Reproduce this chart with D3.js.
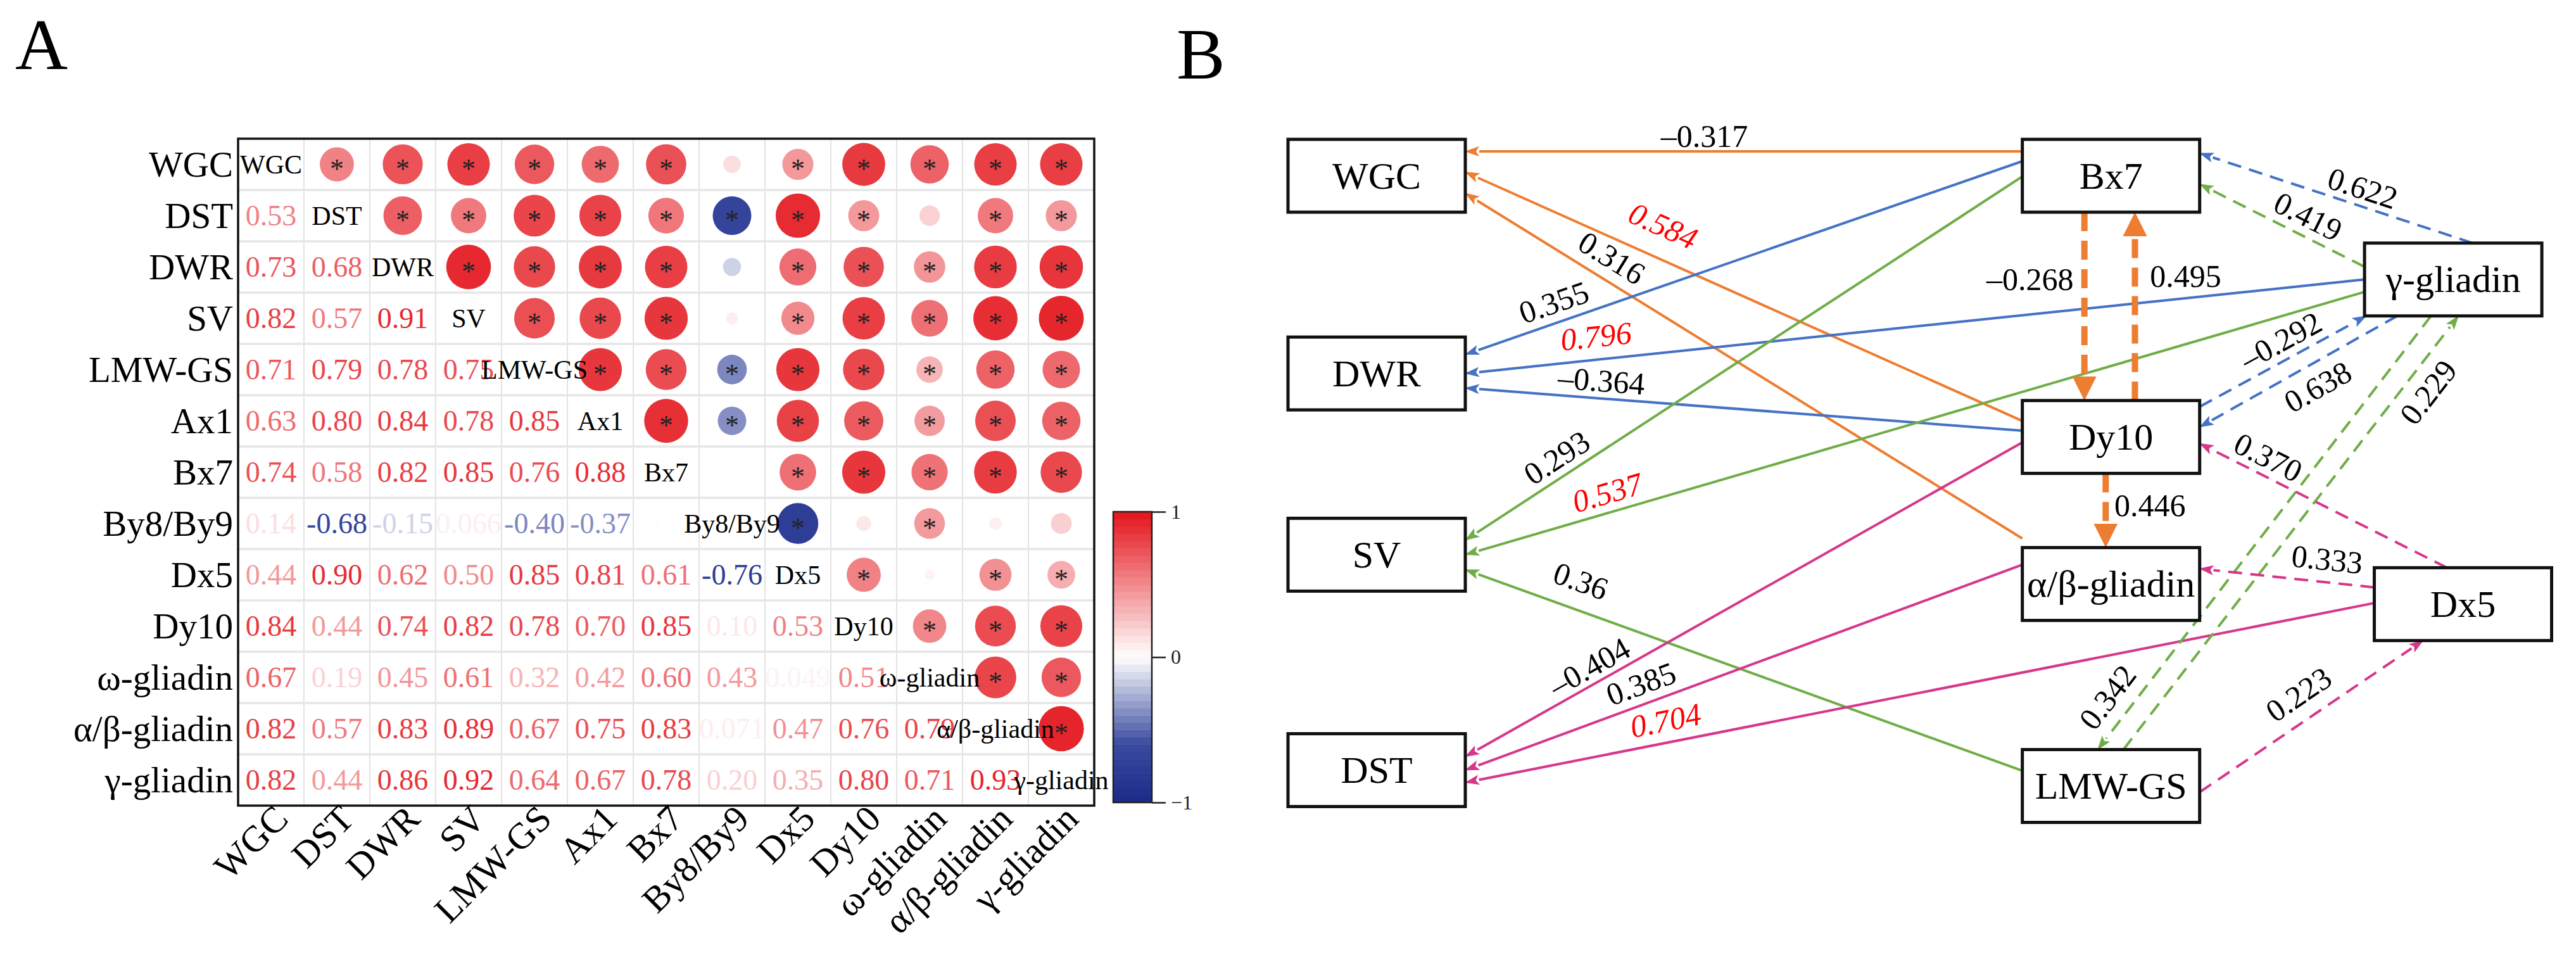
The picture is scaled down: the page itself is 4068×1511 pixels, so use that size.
<!DOCTYPE html>
<html>
<head>
<meta charset="utf-8">
<script src="https://cdn.jsdelivr.net/npm/d3@7"></script>
<style>body{margin:0;background:#fff}</style>
</head>
<body>
<script>
// ---------- Panel A data: correlation matrix ----------
const traits = ["WGC","DST","DWR","SV","LMW-GS","Ax1","Bx7","By8/By9","Dx5","Dy10","ω-gliadin","α/β-gliadin","γ-gliadin"];
// lower triangle, row i, columns 0..i-1
const lowerR = [
  [],
  [0.53],
  [0.73,0.68],
  [0.82,0.57,0.91],
  [0.71,0.79,0.78,0.75],
  [0.63,0.80,0.84,0.78,0.85],
  [0.74,0.58,0.82,0.85,0.76,0.88],
  [0.14,-0.68,-0.15,0.066,-0.40,-0.37,0.004],
  [0.44,0.90,0.62,0.50,0.85,0.81,0.61,-0.76],
  [0.84,0.44,0.74,0.82,0.78,0.70,0.85,0.10,0.53],
  [0.67,0.19,0.45,0.61,0.32,0.42,0.60,0.43,0.049,0.51],
  [0.82,0.57,0.83,0.89,0.67,0.75,0.83,0.071,0.47,0.76,0.79],
  [0.82,0.44,0.86,0.92,0.64,0.67,0.78,0.20,0.35,0.80,0.71,0.93]
];
const sigCut = 0.3;           // |r| above this gets a star
const legendTicks = [-1, 0, 1];

// ---------- Panel B data: path model ----------
const pathNodes = ["WGC","DWR","SV","DST","Bx7","Dy10","α/β-gliadin","LMW-GS","γ-gliadin","Dx5"];
const pathFrom  = ["Bx7","Dy10","α/β-gliadin","Bx7","γ-gliadin","Dy10","Bx7","γ-gliadin","LMW-GS","Dy10","α/β-gliadin","Dx5",
                   "Bx7","Dy10","Dy10","γ-gliadin","Dy10","γ-gliadin","γ-gliadin","γ-gliadin","LMW-GS","Dx5","Dx5","LMW-GS"];
const pathTo    = ["WGC","WGC","WGC","DWR","DWR","DWR","SV","SV","SV","DST","DST","DST",
                   "Dy10","Bx7","α/β-gliadin","Bx7","γ-gliadin","Dy10","Bx7","LMW-GS","γ-gliadin","Dy10","α/β-gliadin","Dx5"];
const pathCoef  = ["-0.317","0.584","0.316","0.355","0.796","-0.364","0.293","0.537","0.36","-0.404","0.385","0.704",
                   "-0.268","0.495","0.446","0.622","-0.292","0.638","0.419","0.342","0.229","0.370","0.333","0.223"];
const pathGroup = ["WGC","WGC","WGC","DWR","DWR","DWR","SV","SV","SV","DST","DST","DST",
                   "WGC","WGC","WGC","DWR","DWR","DWR","SV","SV","SV","DST","DST","DST"];
const pathDirect = pathFrom.map((d, i) => i < 12);

// ---------- layout (not data) ----------
const W = 4068, H = 1511;
const serif = "'Liberation Serif','Times New Roman',serif";
// node placement in unit coordinates
const nodeLayout = {
  "WGC":[0,0], "DWR":[0,0.324], "SV":[0,0.621], "DST":[0,0.974],
  "Bx7":[0.676,0], "Dy10":[0.676,0.428], "α/β-gliadin":[0.676,0.669], "LMW-GS":[0.676,1],
  "γ-gliadin":[0.991,0.170], "Dx5":[1,0.702]
};
// attachment ports per edge: [srcSide, srcFrac, tgtSide, tgtFrac]
const ports = [
  ["l",-0.67,"r",-0.67],["l",-0.44,"r",-0.10],["l",-1.25,"r",0.48],
  ["l",-0.40,"r",-0.52],["l",0,"r",0],["l",-0.17,"r",0.40],
  ["l",0.02,"r",-0.40],["l",0.34,"r",0],["l",-0.42,"r",0.41],
  ["l",0.15,"r",-0.37],["l",-0.53,"r",0],["l",-0.03,"r",0.34],
  ["b",-0.30,"t",-0.30],["t",0.27,"b",0.27],["b",-0.06,"t",-0.06],
  ["t",0.22,"r",-0.62],["r",-0.83,"b",-0.98],["b",-0.63,"r",-0.27],
  ["l",-0.35,"r",0.23],["b",-0.25,"t",-0.15],["t",0.14,"b",0.06],
  ["t",-0.18,"r",0.18],["l",-0.46,"r",-0.42],["r",0.17,"b",-0.45]
];
// label placement per edge: [t along edge, normal offset, rotation override]
const labelPos = [
  [0.571,24],[0.668,50],[0.758,35],[0.829,32],[0.852,37],[0.758,28],
  [0.817,30],[0.836,31],[0.81,45],[0.762,27],[0.672,32],[0.775,35],
  [0.357,-86,0],[0.66,80,0],[0.43,70,0],
  [0.423,28],[0.542,30],[0.459,-36],[0.396,31],[0.913,38],[0.856,-36],
  [0.756,29],[0.284,36],[0.507,40]
];
const groupColor = {WGC:"#ED7D31", DWR:"#4472C4", SV:"#70AD47", DST:"#D6378B"};

const svg = d3.select("body").append("svg")
  .attr("width", W).attr("height", H)
  .style("font-family", serif);

// panel letters
svg.append("text").attr("x", 24).attr("y", 109).attr("font-size", 115).text("A");
svg.append("text").attr("x", 1858).attr("y", 124).attr("font-size", 115).text("B");

// ================= Panel A =================
const n = traits.length;
const x = d3.scaleBand().domain(traits).range([376, 1728]);
const y = d3.scaleBand().domain(traits).range([219, 1272]);
const bw = x.bandwidth(), bh = y.bandwidth();
const corr = (i, j) => i === j ? 1 : (i > j ? lowerR[i][j] : lowerR[j][i]);
const color = d3.scaleLinear()
  .domain([-1, -0.6, 0, 1])
  .range(["#1b2a87", "#3a4a9f", "#ffffff", "#e3141b"]);
const rad = d3.scaleSqrt().domain([0, 1]).range([0, 37]);
const fmt = v => Math.abs(v) < 0.095 ? v.toFixed(3) : v.toFixed(2);

const cells = d3.cross(d3.range(n), d3.range(n)).map(([i, j]) => ({i, j, v: corr(i, j)}));
const gA = svg.append("g");

// grid
gA.selectAll("line.v").data(d3.range(1, n)).enter().append("line")
  .attr("x1", k => x.range()[0] + k * bw).attr("x2", k => x.range()[0] + k * bw)
  .attr("y1", y.range()[0]).attr("y2", y.range()[1])
  .attr("stroke", "#dadada").attr("stroke-width", 1.5);
gA.selectAll("line.h").data(d3.range(1, n)).enter().append("line")
  .attr("y1", k => y.range()[0] + k * bh).attr("y2", k => y.range()[0] + k * bh)
  .attr("x1", x.range()[0]).attr("x2", x.range()[1])
  .attr("stroke", "#e6e6e6").attr("stroke-width", 3.5);

// circles (upper triangle)
const upper = cells.filter(d => d.j > d.i);
gA.selectAll("circle").data(upper).enter().append("circle")
  .attr("cx", d => x(traits[d.j]) + bw / 2)
  .attr("cy", d => y(traits[d.i]) + bh / 2)
  .attr("r", d => rad(Math.abs(d.v)))
  .attr("fill", d => color(d.v));

// numbers (lower triangle)
gA.selectAll("text.num").data(cells.filter(d => d.j < d.i)).enter().append("text")
  .attr("x", d => x(traits[d.j]) + bw / 2)
  .attr("y", d => y(traits[d.i]) + bh / 2)
  .attr("text-anchor", "middle").attr("dominant-baseline", "central")
  .attr("font-size", 46)
  .attr("fill", d => color(d.v))
  .text(d => fmt(d.v));

// diagonal labels
gA.selectAll("text.diag").data(traits).enter().append("text")
  .attr("x", d => x(d) + bw / 2)
  .attr("y", d => y(d) + bh / 2)
  .attr("text-anchor", "middle").attr("dominant-baseline", "central")
  .attr("font-size", 42).attr("fill", "#000")
  .text(d => d);

// significance stars
gA.selectAll("text.star").data(upper.filter(d => Math.abs(d.v) >= sigCut)).enter().append("text")
  .attr("x", d => x(traits[d.j]) + bw / 2)
  .attr("y", d => y(traits[d.i]) + bh / 2 + 21)
  .attr("text-anchor", "middle")
  .attr("font-size", 44).attr("fill", "#222")
  .text("*");

// border
gA.append("rect")
  .attr("x", x.range()[0]).attr("y", y.range()[0])
  .attr("width", x.range()[1] - x.range()[0]).attr("height", y.range()[1] - y.range()[0])
  .attr("fill", "none").attr("stroke", "#111").attr("stroke-width", 3.5);

// row labels
gA.selectAll("text.row").data(traits).enter().append("text")
  .attr("x", x.range()[0] - 8)
  .attr("y", d => y(d) + bh / 2)
  .attr("text-anchor", "end").attr("dominant-baseline", "central")
  .attr("font-size", 57)
  .text(d => d);

// column labels
gA.selectAll("text.col").data(traits).enter().append("text")
  .attr("transform", d => `translate(${x(d) + bw / 2 + 30},${y.range()[1] + 24}) rotate(-45)`)
  .attr("text-anchor", "end")
  .attr("font-size", 58)
  .text(d => d);

// colour bar
const cbX = 1758, cbW = 61;
const cbY = d3.scaleLinear().domain([-1, 1]).range([1267, 808]);
const steps = d3.range(-1, 1, 0.05);
gA.selectAll("rect.cb").data(steps).enter().append("rect")
  .attr("x", cbX).attr("width", cbW)
  .attr("y", v => cbY(v + 0.05)).attr("height", v => cbY(v) - cbY(v + 0.05) + 0.6)
  .attr("fill", v => color(v + 0.025));
gA.append("rect").attr("x", cbX).attr("y", cbY(1)).attr("width", cbW)
  .attr("height", cbY(-1) - cbY(1))
  .attr("fill", "none").attr("stroke", "#222").attr("stroke-width", 2.5);
const cbAxis = gA.append("g").attr("transform", `translate(${cbX + cbW},0)`)
  .call(d3.axisRight(cbY).tickValues(legendTicks).tickFormat(d3.format("d")).tickSize(22).tickPadding(8));
cbAxis.select(".domain").remove();
cbAxis.selectAll("line").attr("stroke", "#222").attr("stroke-width", 2.5);
cbAxis.selectAll("text").attr("font-size", 32).attr("font-family", serif).attr("fill", "#222");

// ================= Panel B =================
const bx = d3.scaleLinear().domain([0, 1]).range([2174, 3889.5]);
const by = d3.scaleLinear().domain([0, 1]).range([277.5, 1241]);
const boxW = 280, boxH = 115;
const center = name => [bx(nodeLayout[name][0]), by(nodeLayout[name][1])];
function port(name, side, f) {
  const [cx, cy] = center(name);
  if (side === "l") return [cx - boxW / 2, cy + f * boxH / 2];
  if (side === "r") return [cx + boxW / 2, cy + f * boxH / 2];
  if (side === "t") return [cx + f * boxW / 2, cy - boxH / 2];
  return [cx + f * boxW / 2, cy + boxH / 2];
}

// strongest direct effect per trait gets a red label
const maxDirect = {};
pathCoef.forEach((c, i) => {
  if (!pathDirect[i]) return;
  const g = pathGroup[i], v = Math.abs(+c);
  if (!(g in maxDirect) || v > maxDirect[g]) maxDirect[g] = v;
});

const edges = pathFrom.map((f, i) => {
  const p = ports[i];
  const s = port(f, p[0], p[1]);
  const t = port(pathTo[i], p[2], p[3]);
  const thick = !pathDirect[i] && pathGroup[i] === "WGC";
  return {i, s, t, thick, direct: pathDirect[i], col: groupColor[pathGroup[i]],
          coef: pathCoef[i], red: pathDirect[i] && Math.abs(+pathCoef[i]) === maxDirect[pathGroup[i]]};
});

// arrow markers
const defs = svg.append("defs");
Object.entries(groupColor).forEach(([g, c]) => {
  defs.append("marker").attr("id", "a-" + g)
    .attr("markerUnits", "userSpaceOnUse").attr("viewBox", "0 -9 24 18")
    .attr("markerWidth", 24).attr("markerHeight", 18).attr("refX", 0).attr("refY", 0)
    .attr("orient", "auto")
    .append("path").attr("d", "M0,-8 L23,0 L0,8 L5,0 Z").attr("fill", c);
  defs.append("marker").attr("id", "A-" + g)
    .attr("markerUnits", "userSpaceOnUse").attr("viewBox", "0 -20 40 40")
    .attr("markerWidth", 40).attr("markerHeight", 40).attr("refX", 0).attr("refY", 0)
    .attr("orient", "auto")
    .append("path").attr("d", "M0,-19 L38,0 L0,19 Z").attr("fill", c);
});

const gB = svg.append("g");
gB.selectAll("line.edge").data(edges).enter().append("line")
  .each(function(d) {
    const dx = d.t[0] - d.s[0], dy = d.t[1] - d.s[1];
    const len = Math.hypot(dx, dy);
    const cut = d.thick ? 38 : 22;
    d3.select(this)
      .attr("x1", d.s[0]).attr("y1", d.s[1])
      .attr("x2", d.t[0] - dx / len * cut).attr("y2", d.t[1] - dy / len * cut);
  })
  .attr("stroke", d => d.col)
  .attr("stroke-width", d => d.thick ? 10 : 4)
  .attr("stroke-dasharray", d => d.direct ? null : (d.thick ? "30,15" : "22,13"))
  .attr("marker-end", d => `url(#${d.thick ? "A" : "a"}-${pathGroup[d.i]})`);

// node boxes
const nodeG = gB.selectAll("g.node").data(pathNodes).enter().append("g")
  .attr("transform", d => `translate(${center(d)[0]},${center(d)[1]})`);
nodeG.append("rect")
  .attr("x", -boxW / 2).attr("y", -boxH / 2).attr("width", boxW).attr("height", boxH)
  .attr("fill", "#fff").attr("stroke", "#111").attr("stroke-width", 5);
nodeG.append("text")
  .attr("text-anchor", "middle").attr("dominant-baseline", "central")
  .attr("font-size", 60)
  .text(d => d);

// edge labels
gB.selectAll("text.lab").data(edges).enter().append("text")
  .attr("transform", d => {
    let dx = d.t[0] - d.s[0], dy = d.t[1] - d.s[1];
    if (dx < 0 || (dx === 0 && dy < 0)) { dx = -dx; dy = -dy; }
    const th = Math.atan2(dy, dx);
    const lp = labelPos[d.i];
    const px = d.s[0] + lp[0] * (d.t[0] - d.s[0]) + lp[1] * Math.sin(th);
    const py = d.s[1] + lp[0] * (d.t[1] - d.s[1]) - lp[1] * Math.cos(th);
    const rot = lp.length > 2 ? lp[2] : th * 180 / Math.PI;
    return `translate(${px},${py}) rotate(${rot})`;
  })
  .attr("text-anchor", "middle").attr("dominant-baseline", "central")
  .attr("font-size", 50)
  .attr("font-style", d => d.red ? "italic" : "normal")
  .attr("fill", d => d.red ? "#ff0000" : "#000")
  .text(d => d.coef.replace("-", "–"));
</script>
</body>
</html>
